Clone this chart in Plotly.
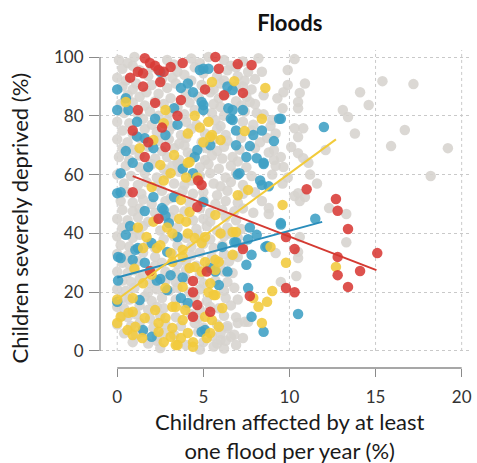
import plotly.graph_objects as go

# ---------------- data ----------------
red_points = [
    (1.6, 99.6), (1.9, 98), (2.2, 97), (2.4, 95.6), (2.7, 95), (3.1, 96.6), (3.8, 98), (5.7, 100),
    (5.9, 96), (0.75, 93), (1.2, 95), (1.5, 94.5), (1.5, 90), (2.5, 91.5), (5.1, 89), (3.7, 85.4),
    (2.2, 84.4), (1.2, 82), (3.5, 80), (2.6, 76), (0.9, 75), (2.8, 69.4), (1.8, 71), (1.6, 66),
    (4.7, 58), (0.9, 54), (6.2, 87), (7.0, 97.6), (7.8, 97.3), (7.3, 87.8), (11.0, 55), (12.7, 51.7),
    (12.8, 47.7), (13.4, 41.5), (9.8, 38.8), (7.3, 34.7), (10.3, 34.7), (12.8, 32), (15.1, 33.3),
    (14.1, 27.2), (12.8, 25.8), (13.4, 21.8), (9.8, 21.4), (10.3, 20), (7.7, 18.7), (2.4, 45),
    (4.65, 49), (1.9, 27.2), (5.2, 27), (4.4, 23.8), (4.4, 20), (4.65, 15.6), (4.4, 11.6),
    (5.4, 13.3), (4.9, 56.5),
]

blue_points = [
    (0, 89), (0.5, 86), (0, 82), (0.65, 82), (2.2, 79), (3.7, 89.5), (4.1, 91), (4.4, 88), (4.8, 95.6),
    (5.3, 96), (4.9, 84.7), (5.0, 82), (1.15, 78), (3.5, 77), (1.15, 73), (0.5, 68), (2.1, 69),
    (4.65, 68.4), (0.9, 64), (1.8, 62.6), (0.2, 60.5), (3.8, 62), (4.4, 60.5), (0.2, 54), (2.1, 52.4),
    (3.3, 52.4), (2.5, 95), (6.4, 90), (6.7, 88.8), (6.7, 82), (7.3, 82), (6.7, 78.6), (6.9, 75),
    (8.4, 75), (7.9, 73.5), (9.5, 79), (6.9, 70), (7.7, 69.7), (9.1, 71.4), (12.0, 76.2), (7.5, 66),
    (8.1, 65.6), (8.5, 64), (7.1, 60.5), (8.3, 58), (8.4, 56.5), (8.8, 56), (11.5, 45), (9.5, 43),
    (7.7, 42), (8.1, 39.5), (7.6, 38), (6.8, 37), (8.7, 35.7), (7.8, 32.7), (7.5, 29.3), (7.6, 21.4),
    (7.8, 11.6), (8.5, 6.5), (10.5, 12.6), (1.6, 47.6), (2.6, 48.6), (2.8, 46), (0.75, 42.5),
    (0.5, 39.5), (3.0, 43.5), (3.5, 38.8), (1.2, 35), (2.9, 33.7), (0.2, 31.6), (0.9, 31), (2.5, 24.5),
    (3.1, 25.8), (3.8, 25), (5.7, 27), (5.9, 22.4), (2.9, 20.7), (1.3, 17.3), (0, 16.7), (3.7, 18),
    (4.9, 6.5), (2.0, 4.8), (1.5, 7.1), (5.0, 96), (5.0, 83.7), (6.45, 82.6), (6.6, 79), (9.4, 79),
    (5.4, 70), (4.5, 66), (1.6, 72.4), (2.8, 73.5), (3.3, 82.6), (0, 53.7), (2.0, 36.7), (1.05, 34.4),
    (8.5, 63.6), (7.0, 60), (5.0, 50.7), (9.5, 43.5), (6.9, 37), (6.1, 35.4), (8.6, 35.4), (0.05, 32),
    (1.6, 30), (0.05, 24), (2.3, 24), (4.1, 16.3), (5.1, 7.1), (6.4, 27), (5.4, 28.2), (2.7, 48),
]

yellow_points = [
    (0.5, 84.7), (2.8, 82), (2.7, 77.5), (4.1, 74), (4.8, 76), (5.4, 72.8), (4.5, 80), (5.5, 91.5),
    (1.3, 69), (2.1, 71.8), (3.3, 66.7), (2.5, 63.3), (3.1, 60.5), (4.2, 64.3), (4.65, 59), (2.7, 58),
    (2.0, 55.8), (6.8, 91.8), (8.6, 89.5), (8.4, 79), (7.4, 74.8), (7.6, 54.8), (7.0, 53), (5.3, 78),
    (5.5, 73.5), (5.0, 71), (6.0, 71.8), (9.6, 49.7), (6.9, 40.5), (8.9, 35.4), (6.7, 32.7), (9.8, 30),
    (12.7, 28.6), (9.0, 20.4), (7.9, 18), (8.2, 15), (8.7, 16.7), (8.4, 9.5), (5.7, 46.3), (6.7, 40.5),
    (6.0, 40), (5.1, 38.8), (4.0, 59), (4.1, 64), (3.7, 51.4), (4.2, 47.3), (4.0, 44), (3.2, 40),
    (4.1, 40), (2.5, 36), (1.5, 35), (4.5, 38.4), (4.9, 36.7), (3.8, 34.4), (3.1, 33.3), (1.7, 38.8),
    (2.3, 35), (3.8, 32), (4.2, 28.2), (5.1, 30.3), (5.7, 31), (3.2, 30.3), (1.5, 23), (0.9, 18),
    (0, 17.5), (3.8, 21.8), (5.3, 20), (5.7, 19), (3.2, 15), (3.95, 13.9), (2.2, 13.9), (0.9, 13.3),
    (0.2, 11.6), (0, 9.5), (0.6, 7.1), (1.05, 8.2), (2.4, 9.5), (3.2, 7.8), (3.8, 10.5), (4.1, 6.1),
    (3.7, 4.4), (3.1, 4.8), (1.45, 4.4), (5.4, 6.1), (5.9, 8.2), (3.5, 2), (4.4, 3), (5.5, 10.5),
    (6.1, 14.6), (5.6, 19), (5.1, 11.6), (5.2, 4.4), (5.4, 23), (5.7, 27.6), (5.9, 30.3), (3.4, 2),
    (4.4, 1.4), (2.7, 3), (2.8, 21.4), (4.5, 28.6), (4.9, 27), (3.4, 15), (0.9, 5.4), (2.4, 6.5),
    (2.8, 11.2), (1.6, 11.2), (0.65, 13), (2.0, 26), (1.0, 28), (3.6, 45), (2.9, 42), (2.1, 44),
    (1.2, 42),
]

gray_points = [
    # sparse points to the right
    (10.3, 99.3), (9.9, 95.6), (10.9, 91), (15.4, 91.8), (17.2, 90.8), (14.1, 88), (14.6, 83.7),
    (13.1, 82), (13.4, 79.6), (13.8, 74), (16.7, 75.2), (15.9, 69.7), (19.2, 69), (18.2, 59.5),
    (10.6, 87.8), (10.5, 84.7), (10.5, 82.6), (9.6, 82.6), (9.9, 90.5), (9.3, 86), (9.65, 88),
    (10.3, 75.8), (10.8, 75.8), (10.5, 72.8), (10.1, 69.4), (10.5, 67.3), (10.8, 65.6), (11.1, 64),
    (11.2, 60), (11.6, 57), (12.1, 68.4), (9.65, 62.6), (9.1, 68.4), (9.1, 65), (9.0, 78.6),
    (8.4, 95), (8.2, 99.6), (7.4, 92), (7.3, 90), (7.7, 84.7), (8.1, 81), (10.5, 53.7), (10.9, 52.4),
    (9.9, 59), (10.3, 52.7), (10.6, 51), (12.3, 48.6), (13.3, 46.6), (7.9, 47), (8.8, 46.6),
    (10.6, 38.8), (13.3, 37), (10.5, 33.7), (10.5, 31.6), (9.2, 33.3), (7.0, 32), (9.5, 23.5),
    (10.4, 25.5), (7.6, 9.9), (7.3, 4.4), (6.6, 4.8), (8.8, 48.6), (6.4, 7.8), (6.0, 3.7), (7.4, 9.9),
    # dense cloud
    (0.1, 99), (0.6, 98), (1.0, 100), (2.9, 99), (3.3, 97.5), (4.3, 99.5), (4.8, 98), (5.3, 100),
    (6.2, 99), (6.6, 97), (7.3, 98.5),
    (0.3, 96), (0.9, 97), (1.3, 95.5), (2.0, 96.5), (3.5, 95), (4.5, 96.5), (5.0, 94.5), (6.4, 95.5),
    (6.9, 96.5), (7.6, 95),
    (0.0, 93), (0.5, 92), (1.8, 93.5), (2.6, 92.5), (3.2, 93), (3.9, 94), (4.3, 92), (5.8, 93.5),
    (6.2, 92), (7.0, 93.5), (8.0, 92.5),
    (0.3, 90), (0.9, 89), (1.1, 91), (2.0, 90.5), (2.9, 89.5), (3.4, 91), (4.9, 90.5), (5.6, 89),
    (6.0, 91), (6.9, 90), (7.8, 89),
    (0.6, 87), (1.3, 86.5), (1.7, 88), (2.4, 87.5), (3.1, 86), (4.0, 87.5), (4.7, 86.5), (5.4, 88),
    (5.9, 86), (6.3, 87.5), (7.5, 86.5), (8.5, 87),
    (0.2, 84), (0.9, 84.5), (1.6, 83.5), (2.2, 85), (2.7, 84), (3.5, 83), (4.2, 84.5), (5.6, 84),
    (6.0, 83), (6.9, 85), (7.2, 83.5), (8.0, 84),
    (0.4, 81), (1.2, 80.5), (1.9, 81.5), (2.4, 80), (3.0, 81), (3.9, 80.5), (4.5, 82), (5.5, 81),
    (6.2, 80), (7.4, 81.5), (8.5, 80.5),
    (0.0, 78), (0.7, 77.5), (1.5, 79), (2.0, 77), (2.9, 78.5), (3.2, 76.5), (4.0, 78), (4.6, 77),
    (5.7, 78.5), (6.0, 76.5), (7.3, 78), (7.9, 77), (8.9, 76.5),
    (0.3, 75), (0.9, 74), (1.6, 75.5), (2.3, 74.5), (3.0, 75), (3.7, 73.5), (4.3, 75.5), (5.1, 74),
    (5.8, 75.5), (6.3, 73.5), (7.8, 75), (9.2, 74),
    (0.0, 72), (0.6, 71), (1.3, 72.5), (2.4, 71.5), (3.0, 72), (3.6, 70.5), (4.0, 72.5), (4.9, 71),
    (5.6, 72), (6.4, 71.5), (7.2, 72.5), (8.3, 71), (8.7, 72.5),
    (0.3, 69), (0.9, 68.5), (1.8, 69.5), (2.6, 68), (3.3, 69), (3.9, 70), (4.1, 67.5), (5.2, 69),
    (5.8, 68), (6.2, 69.5), (7.1, 68.5), (8.0, 69), (8.8, 67.5),
    (0.1, 66), (0.7, 65), (1.3, 66.5), (2.2, 65.5), (2.9, 66), (3.6, 65), (4.3, 66.5), (5.1, 65),
    (5.5, 66.5), (6.1, 65.5), (6.7, 66), (7.0, 64.5), (9.5, 66),
    (0.5, 63), (1.3, 62.5), (2.0, 63.5), (2.7, 62), (3.2, 63), (3.5, 64), (4.8, 62.5), (5.3, 63.5),
    (5.9, 62), (6.6, 63), (7.5, 62.5), (9.2, 63),
    (0.0, 60), (0.8, 59.5), (1.6, 60.5), (2.3, 59), (2.9, 60), (3.6, 61), (4.8, 59.5), (5.4, 60.5),
    (6.3, 59), (6.9, 60.5), (7.8, 59.5), (9.0, 60),
    (0.4, 57), (1.2, 56.5), (1.7, 57.5), (2.3, 56), (3.3, 57), (3.9, 56.5), (4.3, 58), (5.6, 57),
    (6.0, 56), (6.6, 57.5), (7.3, 56.5), (9.6, 57),
    (0.6, 54), (1.4, 53.5), (2.6, 54.5), (3.4, 53), (3.8, 54.5), (4.4, 53.5), (5.0, 54), (5.8, 53),
    (6.4, 54.5), (7.3, 53.5), (8.0, 54),
    (0.2, 51), (0.9, 50.5), (1.5, 51.5), (2.0, 50), (2.8, 51), (3.1, 52), (4.2, 50.5), (5.0, 51.5),
    (5.7, 50), (6.3, 51), (7.0, 50.5), (8.4, 51),
    (0.3, 48), (0.9, 47.5), (1.3, 48.5), (2.2, 47), (3.3, 48), (3.9, 47.5), (4.8, 48.5), (5.4, 47),
    (6.1, 48), (6.8, 47.5), (7.3, 48.5),
    (0.0, 45), (0.6, 44.5), (1.2, 45.5), (1.8, 44), (2.3, 45), (3.1, 45.5), (4.4, 44.5), (5.0, 45),
    (5.4, 44), (6.3, 45.5), (6.9, 44.5),
    (0.3, 42), (1.0, 41.5), (1.5, 42.5), (2.5, 41), (3.5, 42), (4.6, 41.5), (5.2, 42.5), (5.8, 41),
    (6.4, 42), (7.2, 41.5),
    (0.0, 39), (0.9, 38.5), (1.3, 39.5), (2.7, 38), (3.3, 39), (4.0, 38.5), (4.7, 39.5), (5.4, 38),
    (6.2, 39), (6.5, 40), (7.0, 38.5),
    (0.2, 36), (0.7, 35.5), (1.8, 36.5), (2.2, 35), (3.5, 36), (4.3, 35.5), (5.0, 36.5), (5.6, 35),
    (6.1, 36), (7.3, 35.5),
    (0.0, 33), (0.6, 32.5), (1.5, 33.5), (2.2, 32), (3.2, 33), (4.3, 32.5), (4.8, 33.5), (5.5, 32),
    (6.2, 33), (6.8, 32.5),
    (0.3, 30), (0.7, 29.5), (1.2, 30.5), (2.2, 29), (2.6, 30), (3.5, 29.5), (4.0, 30.5), (4.6, 29),
    (5.4, 30), (6.0, 29.5), (6.5, 30.5),
    (0.0, 27), (0.6, 26.5), (1.0, 27.5), (1.5, 26), (2.8, 27), (3.4, 26.5), (4.0, 27.5), (4.8, 26),
    (6.2, 27), (6.7, 26.5),
    (0.3, 24), (0.8, 23.5), (1.3, 24.5), (1.9, 23), (2.8, 24), (3.4, 23.5), (4.0, 24.5), (5.0, 23),
    (5.7, 24), (6.4, 23.5),
    (0.0, 21), (0.5, 20.5), (1.0, 21.5), (1.8, 20), (2.3, 21), (3.0, 20.5), (3.5, 21.5), (4.2, 20),
    (4.8, 21), (6.2, 20.5), (6.8, 21.5),
    (0.3, 18), (0.7, 17.5), (1.6, 18.5), (2.0, 17), (2.6, 18), (3.4, 17.5), (4.5, 18.5), (5.2, 17),
    (6.3, 18), (7.0, 17.5),
    (0.0, 15), (0.4, 14.5), (1.3, 15.5), (1.8, 14), (2.3, 15), (2.7, 14.5), (4.0, 15.5), (4.8, 14),
    (5.4, 15), (5.9, 14.5), (6.6, 15.5),
    (0.3, 12), (0.6, 11.5), (1.1, 12.5), (1.9, 11), (2.5, 12), (3.4, 11.5), (4.3, 12.5), (4.7, 11),
    (6.2, 12), (6.9, 11.5),
    (0.0, 9), (0.8, 8.5), (1.3, 9.5), (2.1, 8), (2.8, 9), (3.7, 8.5), (4.5, 9.5), (5.0, 8),
    (5.8, 9), (6.4, 8.5), (7.0, 9.5),
    (0.4, 6), (1.1, 5.5), (1.5, 6.5), (2.3, 5), (2.7, 6), (3.3, 5.5), (4.7, 6.5), (5.5, 5),
    (6.0, 6), (6.8, 5.5),
    (0.9, 3), (1.8, 2.5), (2.3, 3.5), (4.0, 2), (5.0, 3), (5.8, 2.5), (6.3, 3.5), (6.9, 2),
    (2.5, 1), (4.8, 0.5), (5.6, 1.5), (6.2, 0.8),
]

# trend lines: (x start, x end, intercept, slope)
trend_names = ["blue", "yellow", "red"]
trend_x_start = [0.0, 0.0, 0.9]
trend_x_end = [11.9, 12.7, 15.05]
trend_intercept = [25.0, 17.5, 61.5]
trend_slope = [1.59, 4.29, -2.26]

x_ticks = [0, 5, 10, 15, 20]
y_ticks = [0, 20, 40, 60, 80, 100]

# ---------------- styling ----------------
COLORS = {
    "gray": "#d6d3ce",
    "blue": "#3e9fc4",
    "yellow": "#f1ca3b",
    "red": "#d83a36",
}
LINE_COLORS = {"blue": "#2a8dbb", "yellow": "#f2cb3a", "red": "#d43a32"}
FONT = "Lato, 'Open Sans', sans-serif"

fig = go.Figure()


def add_points(points, color):
    xs = [p[0] for p in points]
    ys = [p[1] for p in points]
    fig.add_trace(go.Scatter(
        x=xs, y=ys, mode="markers",
        marker=dict(size=10.5, color=color, opacity=0.88, line=dict(width=0)),
        showlegend=False, hoverinfo="skip",
    ))


add_points(gray_points, COLORS["gray"])
add_points(blue_points, COLORS["blue"])
add_points(yellow_points, COLORS["yellow"])
add_points(red_points, COLORS["red"])

for name, xs0, xs1, b, m in zip(trend_names, trend_x_start, trend_x_end, trend_intercept, trend_slope):
    fig.add_trace(go.Scatter(
        x=[xs0, xs1], y=[b + m * xs0, b + m * xs1], mode="lines",
        line=dict(color=LINE_COLORS[name], width=2),
        showlegend=False, hoverinfo="skip",
    ))

X_RANGE = [-1.0, 20.6]
Y_RANGE = [-5.8, 102.4]

shapes = []
# vertical dotted grid lines from y=0 up to the top
for t in x_ticks:
    shapes.append(dict(type="line", xref="x", yref="y", x0=t, x1=t, y0=0, y1=Y_RANGE[1],
                       line=dict(color="#c9c9c9", width=1, dash="dot"), layer="below"))
# range-limited axis lines
shapes.append(dict(type="line", xref="x", yref="paper", x0=x_ticks[0], x1=x_ticks[-1], y0=0, y1=0,
                   line=dict(color="#8a8a8a", width=1.3)))
shapes.append(dict(type="line", xref="paper", yref="y", x0=0, x1=0, y0=y_ticks[0], y1=y_ticks[-1],
                   line=dict(color="#8a8a8a", width=1.3)))

fig.update_layout(
    width=477, height=463, autosize=False,
    margin=dict(l=100, r=5, t=50, b=95),
    paper_bgcolor="white", plot_bgcolor="white",
    font=dict(family=FONT, color="#333333"),
    title=dict(text="<b>Floods</b>", x=0.51, xref="paper", xanchor="center",
               y=0.95, yref="container", yanchor="middle",
               font=dict(size=22, color="#111111", family=FONT)),
    shapes=shapes,
    annotations=[
        dict(text="Children severely deprived (%)", xref="paper", yref="paper",
             x=-0.215, y=0.47, xanchor="center", yanchor="middle", textangle=-90,
             showarrow=False, font=dict(size=22, color="#1a1a1a", family=FONT)),
        dict(text="Children affected by at least<br>one flood per year (%)", xref="paper", yref="paper",
             x=0.51, y=-0.215, xanchor="center", yanchor="middle",
             showarrow=False, font=dict(size=22, color="#1a1a1a", family=FONT)),
    ],
)

fig.update_xaxes(range=X_RANGE, tickvals=x_ticks, ticktext=[str(v) for v in x_ticks],
                 showgrid=False, zeroline=False, showline=False,
                 ticks="outside", ticklen=8, tickcolor="#8a8a8a", tickwidth=1.3,
                 ticklabelstandoff=6,
                 tickfont=dict(size=17, color="#333333", family=FONT), fixedrange=True)
fig.update_yaxes(range=Y_RANGE, tickvals=y_ticks, ticktext=[str(v) for v in y_ticks],
                 showgrid=True, gridcolor="#c9c9c9", gridwidth=1, griddash="dot",
                 zeroline=False, showline=False,
                 ticks="outside", ticklen=10, tickcolor="#8a8a8a", tickwidth=1.3,
                 ticklabelstandoff=2,
                 tickfont=dict(size=17, color="#333333", family=FONT), fixedrange=True)

fig.write_html("out.html")
